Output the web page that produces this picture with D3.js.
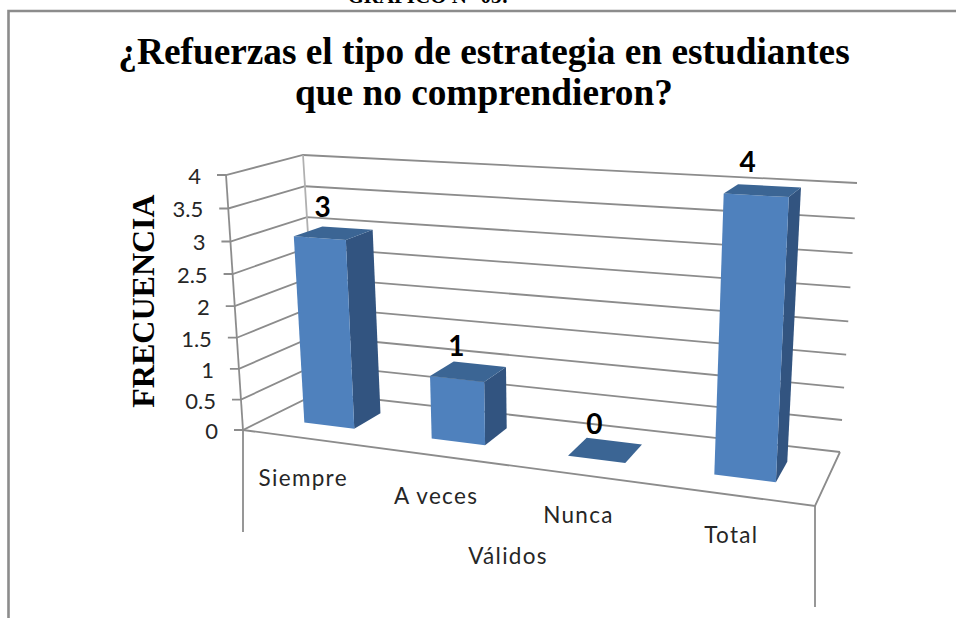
<!DOCTYPE html>
<html><head><meta charset="utf-8">
<script src="https://cdn.jsdelivr.net/npm/d3@7"></script>
<style>html,body{margin:0;padding:0;background:#fff}svg{display:block}</style>
</head><body><div id="c"></div>
<script>
const categories = ["Siempre","A veces","Nunca","Total"];
const values = [3,1,0,4];
const valueTicks = [0,0.5,1,1.5,2,2.5,3,3.5,4];
const titleLines = ["¿Refuerzas el tipo de estrategia en estudiantes","que no comprendieron?"];
const headerText = "GRÁFICO N° 03:";
const groupLabel = "Válidos";
const yTitle = "FRECUENCIA";

const W=956,H=618;
const svg=d3.select("#c").append("svg").attr("width",W).attr("height",H);

// corners of the 3D box on screen
const FLB=[243,430],FLT=[226,175],BLB=[318,393],BLT=[303,155],
      FRB=[815,506],FRT=[830,208],BRB=[840,452],BRT=[857,183];
const lerp=(a,b,t)=>[a[0]+(b[0]-a[0])*t,a[1]+(b[1]-a[1])*t];
const persp=(t,k)=>t/(k-(k-1)*t);
const vScale=d3.scaleLinear().domain([0,4]).range([0,1]);
const band=d3.scaleBand().domain(categories).range([0,1]).paddingInner(0.6).paddingOuter(0.3);
function P(t,v,w){
  const u=persp(t,1.15),h=persp(vScale(v),1.058);
  const bot=lerp(lerp(FLB,FRB,u),lerp(BLB,BRB,u),w);
  const top=lerp(lerp(FLT,FRT,u),lerp(BLT,BRT,u),w);
  return lerp(bot,top,h);
}
const line=d3.line();
const grey="#8c8c8c";
// frame
svg.append("path").attr("d",line([[956,11],[8.5,11],[8.5,618]])).attr("fill","none").attr("stroke",grey).attr("stroke-width",2.6);

// header
svg.append("text").text(headerText).attr("x",428).attr("y",3).attr("text-anchor","middle")
  .attr("font-family","Liberation Serif").attr("font-weight","bold").attr("font-size",21).attr("fill","#000");
// title
const titleY=[64,105];
svg.selectAll("text.t").data(titleLines).join("text").attr("class","t").text(d=>d)
  .attr("x",484).attr("y",(d,i)=>titleY[i]).attr("text-anchor","middle")
  .attr("font-family","Liberation Serif").attr("font-weight","bold").attr("font-size",37.3).attr("fill","#000");

// gridlines
const g=svg.append("g").attr("fill","none").attr("stroke",grey).attr("stroke-width",1.8);
valueTicks.forEach(v=>{
  g.append("path").attr("d",line([[P(0,v,0)[0]-9,P(0,v,0)[1]],P(0,v,0),P(0,v,1),P(1,v,1)]));
});
g.append("path").attr("d",line([P(0,0,0),P(0,4,0)]));
g.append("path").attr("d",line([P(0,0,1),P(0,4,1)])).attr("stroke","#b0b0b0");
// floor and skirt
g.append("path").attr("d",line([P(0,0,0),P(1,0,0),P(1,0,1)]));
g.append("path").attr("d",line([P(0,0,0),[P(0,0,0)[0],532]]));
g.append("path").attr("d",line([P(1,0,0),[P(1,0,0)[0],607]]));

// tick labels
svg.selectAll("text.v").data(valueTicks).join("text").attr("class","v").text(d=>d)
  .attr("x",d=>P(0,d,0)[0]-25).attr("y",d=>P(0,d,0)[1]+9)
  .attr("text-anchor","end").attr("font-family","Lato").attr("font-size",22).attr("fill","#262626");

// bars
const col={front:"#4f81bd",side:"#325480",top:"#3b6594"};
const w0=0.33,w1=0.72;
const bars=svg.append("g");
categories.forEach((c,i)=>{
  const a=band(c),b=a+band.bandwidth(),v=values[i];
  const poly=(pts,f)=>bars.append("path").attr("d",line(pts)+"Z").attr("fill",f);
  if(v>0){
    poly([P(b,0,w0),P(b,0,w1),P(b,v,w1),P(b,v,w0)],col.side);
    poly([P(a,0,w0),P(b,0,w0),P(b,v,w0),P(a,v,w0)],col.front);
  }
  poly([P(a,v,w0),P(b,v,w0),P(b,v,w1),P(a,v,w1)],col.top);
});

// data labels
const lblOffset=[[-11,-16],[-12,-16],[-11,-16],[-15,-19]];
svg.selectAll("text.d").data(values).join("text").attr("class","d").text(d=>d)
  .attr("x",(d,i)=>{const c=categories[i];return P(band(c)+band.bandwidth()/2,d,(w0+w1)/2)[0]+lblOffset[i][0];})
  .attr("y",(d,i)=>{const c=categories[i];return P(band(c)+band.bandwidth()/2,d,(w0+w1)/2)[1]+lblOffset[i][1];})
  .attr("text-anchor","middle").attr("font-family","Lato").attr("font-weight","bold").attr("font-size",28).attr("fill","#000");

// category labels
svg.selectAll("text.c").data(categories).join("text").attr("class","c").text(d=>d)
  .attr("x",d=>P(band(d)+band.bandwidth()/2,0,0)[0]-3).attr("y",d=>P(band(d)+band.bandwidth()/2,0,0)[1]+48)
  .attr("text-anchor","middle").attr("font-family","Lato").attr("font-size",22.5).attr("letter-spacing",1.3).attr("fill","#262626");
svg.append("text").text(groupLabel).attr("x",508).attr("y",564).attr("text-anchor","middle")
  .attr("font-family","Lato").attr("font-size",22.5).attr("letter-spacing",1.3).attr("fill","#262626");

// y title
svg.append("text").text(yTitle).attr("transform","translate(154,301) rotate(-90)").attr("text-anchor","middle")
  .attr("font-family","Liberation Serif").attr("font-weight","bold").attr("font-size",32).attr("fill","#000");
</script></body></html>
